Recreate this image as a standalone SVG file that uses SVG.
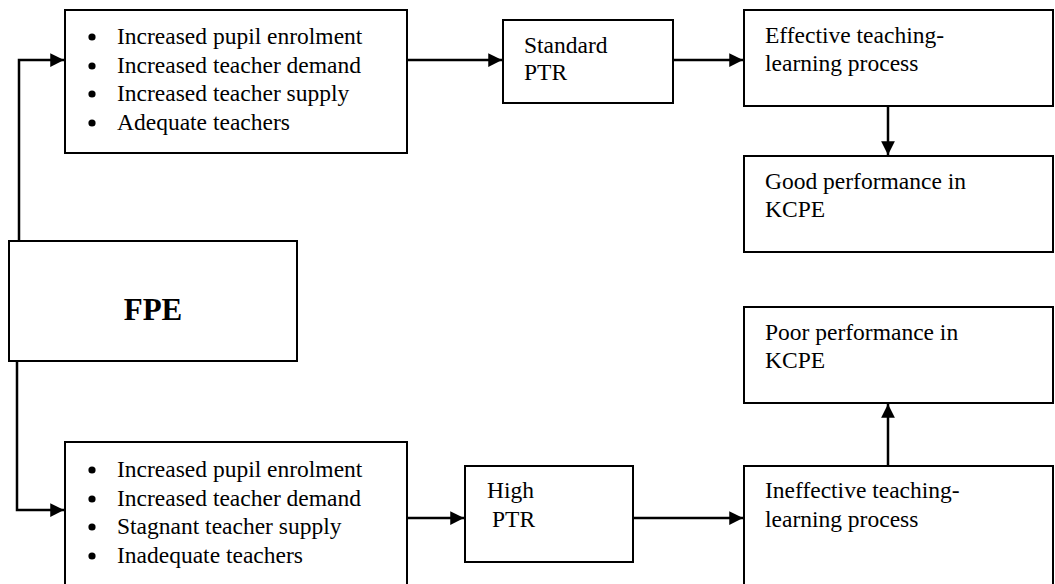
<svg xmlns="http://www.w3.org/2000/svg" width="1055" height="584" viewBox="0 0 1055 584">
<style>
  .box { fill: #ffffff; stroke: #000000; stroke-width: 2; }
  .t { font-family: "Liberation Serif", "Times New Roman", serif; font-size: 23.5px; fill: #000000; }
  .big { font-family: "Liberation Serif", "Times New Roman", serif; font-size: 31px; font-weight: bold; fill: #000000; }
  .edge { fill: none; stroke: #000000; stroke-width: 2.5; }
</style>
<defs>
  <marker id="arr" viewBox="0 0 10 10" refX="10" refY="5" markerWidth="5.5" markerHeight="5.5" markerUnits="strokeWidth" orient="auto">
    <path d="M0,0 L10,5 L0,10 Z" fill="#000000"/>
  </marker>
</defs>
<rect width="1055" height="584" fill="#ffffff"/>

<g id="connectors">
  <path class="edge" d="M19,241 V60 H64" marker-end="url(#arr)"/>
  <path class="edge" d="M17,361 V510 H64" marker-end="url(#arr)"/>
  <path class="edge" d="M407,60 H502" marker-end="url(#arr)"/>
  <path class="edge" d="M673,60 H743" marker-end="url(#arr)"/>
  <path class="edge" d="M888,106 V155" marker-end="url(#arr)"/>
  <path class="edge" d="M407,518 H464" marker-end="url(#arr)"/>
  <path class="edge" d="M633,518 H743" marker-end="url(#arr)"/>
  <path class="edge" d="M888,466 V404" marker-end="url(#arr)"/>
</g>

<g id="fpe">
  <rect class="box" x="9" y="241" width="288" height="120"/>
  <text class="big" x="153" y="320" text-anchor="middle">FPE</text>
</g>

<g id="top-list">
  <rect class="box" x="65" y="10" width="342" height="143"/>
  <circle cx="92" cy="37" r="3.6"/>
  <circle cx="92" cy="66" r="3.6"/>
  <circle cx="92" cy="94" r="3.6"/>
  <circle cx="92" cy="123" r="3.6"/>
  <text class="t" x="117" y="44">Increased pupil enrolment</text>
  <text class="t" x="117" y="72.5">Increased teacher demand</text>
  <text class="t" x="117" y="101">Increased teacher supply</text>
  <text class="t" x="117" y="129.5">Adequate teachers</text>
</g>

<g id="standard-ptr">
  <rect class="box" x="503" y="20" width="170" height="83"/>
  <text class="t" x="524" y="53">Standard</text>
  <text class="t" x="524" y="80">PTR</text>
</g>

<g id="effective">
  <rect class="box" x="744" y="10" width="309" height="96"/>
  <text class="t" x="765" y="43">Effective teaching-</text>
  <text class="t" x="765" y="71">learning process</text>
</g>

<g id="good">
  <rect class="box" x="744" y="156" width="309" height="96"/>
  <text class="t" x="765" y="189">Good performance in</text>
  <text class="t" x="765" y="217">KCPE</text>
</g>

<g id="poor">
  <rect class="box" x="744" y="307" width="309" height="96"/>
  <text class="t" x="765" y="340">Poor performance in</text>
  <text class="t" x="765" y="368">KCPE</text>
</g>

<g id="bottom-list">
  <rect class="box" x="65" y="442" width="342" height="150"/>
  <circle cx="92" cy="470" r="3.6"/>
  <circle cx="92" cy="499" r="3.6"/>
  <circle cx="92" cy="527" r="3.6"/>
  <circle cx="92" cy="556" r="3.6"/>
  <text class="t" x="117" y="477">Increased pupil enrolment</text>
  <text class="t" x="117" y="505.5">Increased teacher demand</text>
  <text class="t" x="117" y="534">Stagnant teacher supply</text>
  <text class="t" x="117" y="562.5">Inadequate teachers</text>
</g>

<g id="high-ptr">
  <rect class="box" x="465" y="466" width="168" height="96"/>
  <text class="t" x="487" y="498">High</text>
  <text class="t" x="492" y="527">PTR</text>
</g>

<g id="ineffective">
  <rect class="box" x="744" y="466" width="309" height="128"/>
  <text class="t" x="765" y="498">Ineffective teaching-</text>
  <text class="t" x="765" y="527">learning process</text>
</g>
</svg>
